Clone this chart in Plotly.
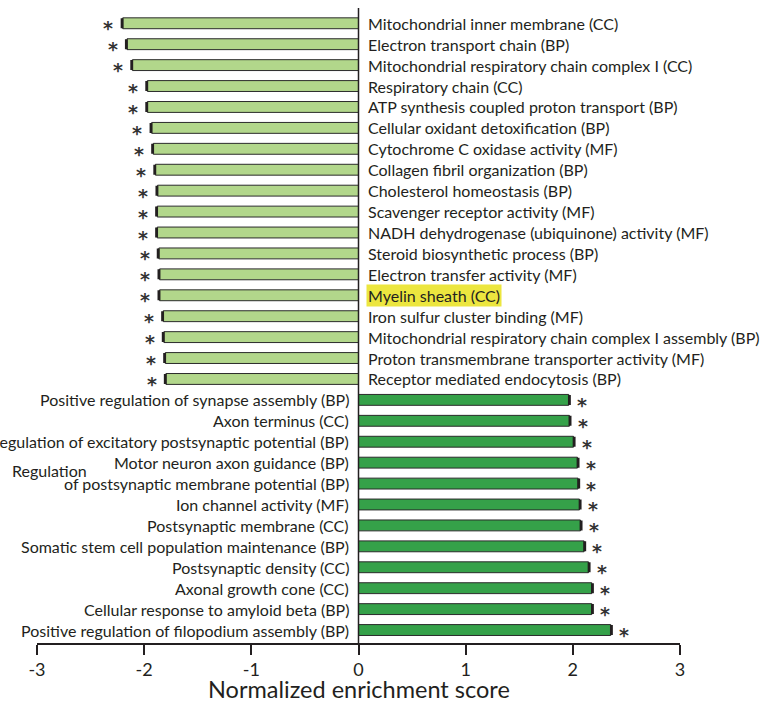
import plotly.graph_objects as go

# Gene-set terms with negative enrichment (listed top to bottom)
neg_terms = [
    "Mitochondrial inner membrane (CC)",
    "Electron transport chain (BP)",
    "Mitochondrial respiratory chain complex I (CC)",
    "Respiratory chain (CC)",
    "ATP synthesis coupled proton transport (BP)",
    "Cellular oxidant detoxification (BP)",
    "Cytochrome C oxidase activity (MF)",
    "Collagen fibril organization (BP)",
    "Cholesterol homeostasis (BP)",
    "Scavenger receptor activity (MF)",
    "NADH dehydrogenase (ubiquinone) activity (MF)",
    "Steroid biosynthetic process (BP)",
    "Electron transfer activity (MF)",
    "Myelin sheath (CC)",
    "Iron sulfur cluster binding (MF)",
    "Mitochondrial respiratory chain complex I assembly (BP)",
    "Proton transmembrane transporter activity (MF)",
    "Receptor mediated endocytosis (BP)",
]
neg_nes = [-2.20, -2.16, -2.11, -1.97, -1.97, -1.93, -1.915, -1.895, -1.875,
           -1.878, -1.878, -1.863, -1.856, -1.856, -1.822, -1.816, -1.803, -1.797]
neg_err = [0.012] * len(neg_terms)

# Gene-set terms with positive enrichment (listed top to bottom)
pos_terms = [
    "Positive regulation of synapse assembly (BP)",
    "Axon terminus (CC)",
    "Regulation of excitatory postsynaptic potential (BP)",
    "Motor neuron axon guidance (BP)",
    "Regulation of postsynaptic membrane potential (BP)",
    "Ion channel activity (MF)",
    "Postsynaptic membrane (CC)",
    "Somatic stem cell population maintenance (BP)",
    "Postsynaptic density (CC)",
    "Axonal growth cone (CC)",
    "Cellular response to amyloid beta (BP)",
    "Positive regulation of filopodium assembly (BP)",
]
pos_nes = [1.962, 1.968, 2.006, 2.043, 2.049, 2.062, 2.071, 2.105, 2.146,
           2.177, 2.177, 2.354]
pos_err = [0.012] * len(pos_terms)

highlighted = ["Myelin sheath (CC)"]
x_ticks = [-3, -2, -1, 0, 1, 2, 3]
x_title = "Normalized enrichment score"

TEXT = "#231f20"
FONT = "Lato"

n_neg = len(neg_terms)
neg_pos = list(range(n_neg))
pos_pos = list(range(n_neg, n_neg + len(pos_terms)))

fig = go.Figure()

fig.add_trace(go.Bar(
    x=neg_nes, y=neg_pos, orientation="h", width=0.52,
    marker=dict(color="#b2d78b", line=dict(color="#2b2b2b", width=1)),
    error_x=dict(type="data", symmetric=False, array=[0] * n_neg,
                 arrayminus=neg_err, color="#231f20", thickness=1.6, width=5),
    hoverinfo="skip",
))
fig.add_trace(go.Bar(
    x=pos_nes, y=pos_pos, orientation="h", width=0.52,
    marker=dict(color="#35a149", line=dict(color="#2b2b2b", width=1)),
    error_x=dict(type="data", symmetric=False, array=pos_err,
                 arrayminus=[0] * len(pos_terms), color="#231f20",
                 thickness=1.6, width=5),
    hoverinfo="skip",
))

ann = []
lab_font = dict(family=FONT, size=16, color=TEXT)
star_font = dict(family="DejaVu Sans", size=19, color="#333333")
STAR = "<b>*</b>"

for term, v, e, yy in zip(neg_terms, neg_nes, neg_err, neg_pos):
    a = dict(x=0, y=yy, xref="x", yref="y", text=term, showarrow=False,
             xanchor="left", yanchor="middle", xshift=7, font=lab_font)
    if term in highlighted:
        a.update(bgcolor="#ece63f", borderpad=1)
    ann.append(a)
    ann.append(dict(x=v - e, y=yy, xref="x", yref="y", text=STAR,
                    showarrow=False, xanchor="center", yanchor="middle",
                    xshift=-13, yshift=-5, font=star_font))

for term, v, e, yy in zip(pos_terms, pos_nes, pos_err, pos_pos):
    if term == "Regulation of postsynaptic membrane potential (BP)":
        head, tail = "Regulation", "of postsynaptic membrane potential (BP)"
        ann.append(dict(x=-3, y=yy, xref="x", yref="y", text=head,
                        showarrow=False, xanchor="left", yanchor="middle",
                        xshift=-27, yshift=13, font=lab_font))
        label = tail
    else:
        label = term
    ann.append(dict(x=0, y=yy, xref="x", yref="y", text=label,
                    showarrow=False, xanchor="right", yanchor="middle",
                    xshift=-8, font=lab_font))
    ann.append(dict(x=v + e, y=yy, xref="x", yref="y", text=STAR,
                    showarrow=False, xanchor="center", yanchor="middle",
                    xshift=12, yshift=-5, font=star_font))

# x-axis title placed under the tick labels
ann.append(dict(x=0, y=0, xref="x", yref="paper", text=x_title,
                showarrow=False, xanchor="center", yanchor="middle",
                yshift=-46, font=dict(family=FONT, size=23.5, color=TEXT)))

fig.update_layout(
    width=769, height=701,
    margin=dict(l=37, r=89, t=8, b=58),
    paper_bgcolor="white", plot_bgcolor="white",
    showlegend=False,
    barmode="overlay",
    annotations=ann,
    shapes=[dict(type="line", xref="x", yref="paper", x0=0, x1=0, y0=0, y1=1,
                 line=dict(color=TEXT, width=1.5))],
    xaxis=dict(
        range=[-3, 3], tickvals=x_ticks, ticktext=[str(t) for t in x_ticks],
        showgrid=False, zeroline=False, showline=True, linecolor=TEXT,
        linewidth=1.5, ticks="outside", ticklen=10, tickwidth=1.5,
        tickcolor=TEXT, tickfont=dict(family=FONT, size=18, color=TEXT),
        automargin=False,
    ),
    yaxis=dict(
        range=[29.62, -0.73], showticklabels=False, showgrid=False,
        zeroline=False, showline=False, ticks="", automargin=False,
    ),
)

fig.write_html("out.html")
